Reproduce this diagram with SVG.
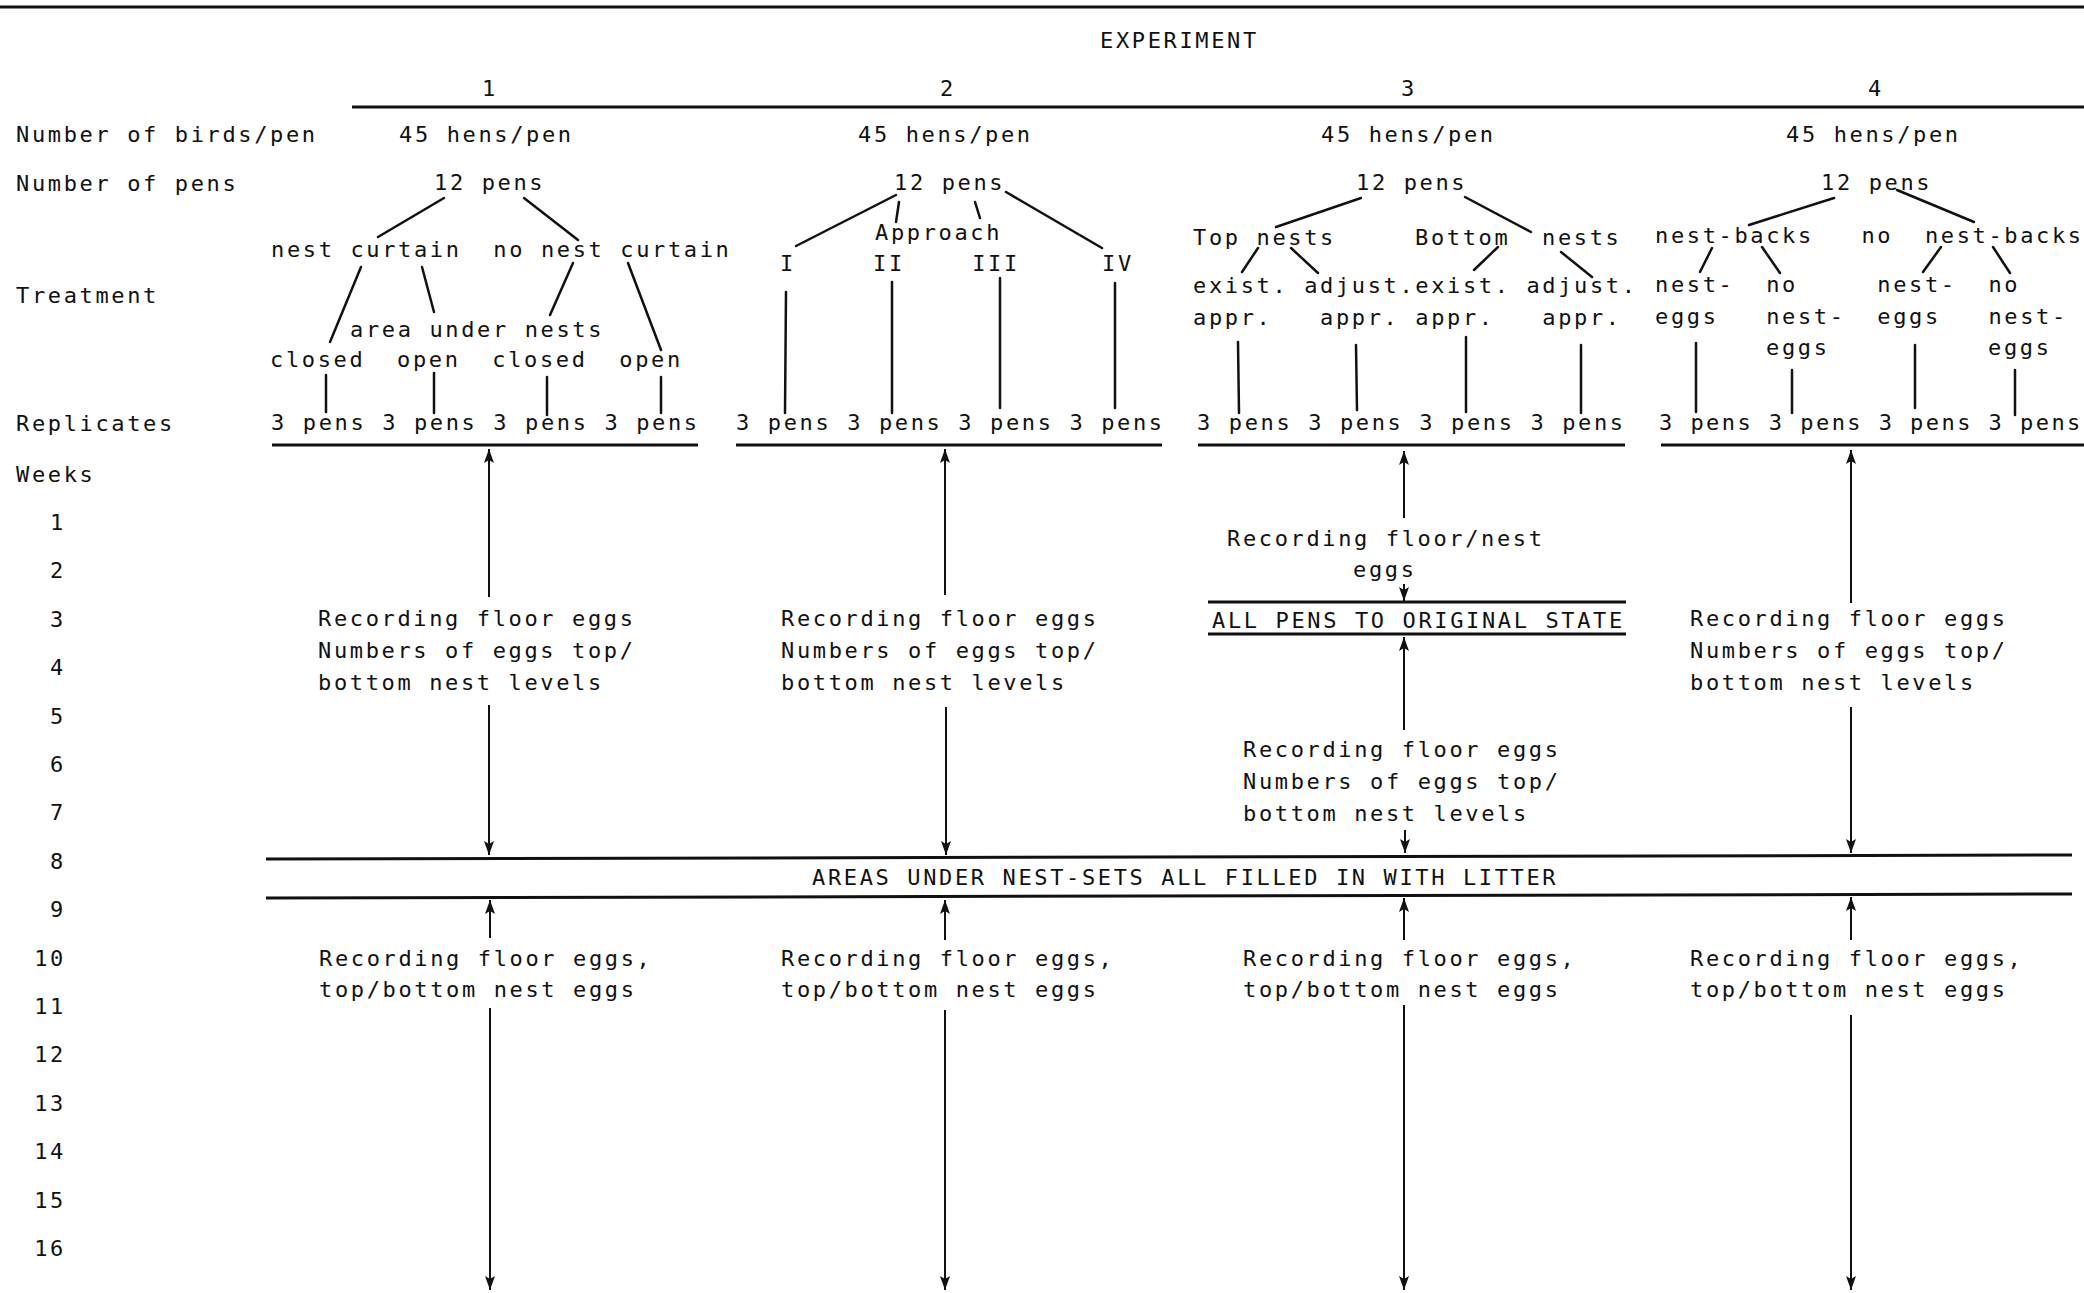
<svg xmlns="http://www.w3.org/2000/svg" width="2084" height="1293" viewBox="0 0 2084 1293" xml:space="preserve">
<style>
text { font-family: "DejaVu Sans Mono", "Liberation Mono", monospace; font-size: 22px; letter-spacing: 2.63px; fill: #111; white-space: pre; }
.c { text-anchor: middle; }
.e { text-anchor: end; }
.rule { stroke: #111; stroke-width: 3; fill: none; }
.tree { stroke: #111; stroke-width: 2.5; fill: none; stroke-linecap: round; }
.arr { stroke: #111; stroke-width: 2; fill: none; marker-end: url(#ah); }
</style>
<defs>
<marker id="ah" viewBox="0 0 14 10" refX="14" refY="5" markerWidth="14" markerHeight="10" markerUnits="userSpaceOnUse" orient="auto">
<path d="M0,0 L14,5 L0,10 L3,5 z" fill="#111"/>
</marker>
</defs>
<rect width="2084" height="1293" fill="#fff"/>

<g id="rules">
<line class="rule" x1="0" y1="7" x2="2084" y2="7"/>
<line class="rule" x1="352" y1="107" x2="2084" y2="107"/>
<line class="rule" x1="272" y1="445" x2="698" y2="445"/>
<line class="rule" x1="736" y1="445" x2="1162" y2="445"/>
<line class="rule" x1="1198" y1="445" x2="1625" y2="445"/>
<line class="rule" x1="1661" y1="445" x2="2084" y2="445"/>
<line class="rule" x1="1208" y1="602" x2="1626" y2="602"/>
<line class="rule" x1="1208" y1="634" x2="1626" y2="634"/>
<line class="rule" x1="266" y1="859" x2="2072" y2="855"/>
<line class="rule" x1="266" y1="898" x2="2072" y2="894"/>
</g>

<g id="header">
<text x="1100" y="48">EXPERIMENT</text>
<text class="c" x="490" y="96">1</text>
<text class="c" x="948" y="96">2</text>
<text class="c" x="1409" y="96">3</text>
<text class="c" x="1876" y="96">4</text>
</g>

<g id="row-labels">
<text x="16" y="142">Number of birds/pen</text>
<text x="16" y="191">Number of pens</text>
<text x="16" y="303">Treatment</text>
<text x="16" y="431">Replicates</text>
<text x="16" y="482">Weeks</text>
<text class="e" x="66" y="530">1</text>
<text class="e" x="66" y="578.4">2</text>
<text class="e" x="66" y="626.8">3</text>
<text class="e" x="66" y="675.2">4</text>
<text class="e" x="66" y="723.6">5</text>
<text class="e" x="66" y="772">6</text>
<text class="e" x="66" y="820.4">7</text>
<text class="e" x="66" y="868.8">8</text>
<text class="e" x="66" y="917.2">9</text>
<text class="e" x="66" y="965.6">10</text>
<text class="e" x="66" y="1014">11</text>
<text class="e" x="66" y="1062.4">12</text>
<text class="e" x="66" y="1110.8">13</text>
<text class="e" x="66" y="1159.2">14</text>
<text class="e" x="66" y="1207.6">15</text>
<text class="e" x="66" y="1256">16</text>
</g>

<g id="exp1">
<text x="399" y="142">45 hens/pen</text>
<text x="434" y="190">12 pens</text>
<text x="271" y="257">nest curtain  no nest curtain</text>
<text x="350" y="337">area under nests</text>
<text x="270" y="367">closed  open  closed  open</text>
<text x="271" y="430">3 pens 3 pens 3 pens 3 pens</text>
<text x="318" y="626">Recording floor eggs</text>
<text x="318" y="658">Numbers of eggs top/</text>
<text x="318" y="690">bottom nest levels</text>
<text x="319" y="966">Recording floor eggs,</text>
<text x="319" y="997">top/bottom nest eggs</text>
</g>

<g id="exp2">
<text x="858" y="142">45 hens/pen</text>
<text x="894" y="190">12 pens</text>
<text x="875" y="240">Approach</text>
<text class="c" x="788" y="271">I</text>
<text class="c" x="889" y="271">II</text>
<text class="c" x="996" y="271">III</text>
<text class="c" x="1118" y="271">IV</text>
<text x="736" y="430">3 pens 3 pens 3 pens 3 pens</text>
<text x="781" y="626">Recording floor eggs</text>
<text x="781" y="658">Numbers of eggs top/</text>
<text x="781" y="690">bottom nest levels</text>
<text x="781" y="966">Recording floor eggs,</text>
<text x="781" y="997">top/bottom nest eggs</text>
</g>

<g id="exp3">
<text x="1321" y="142">45 hens/pen</text>
<text x="1356" y="190">12 pens</text>
<text x="1193" y="245">Top nests</text>
<text x="1415" y="245">Bottom  nests</text>
<text x="1193" y="293">exist. adjust.exist. adjust.</text>
<text x="1193" y="325">appr.   appr. appr.   appr.</text>
<text x="1197" y="430">3 pens 3 pens 3 pens 3 pens</text>
<text x="1227" y="546">Recording floor/nest</text>
<text x="1353" y="577">eggs</text>
<text x="1212" y="628">ALL PENS TO ORIGINAL STATE</text>
<text x="1243" y="757">Recording floor eggs</text>
<text x="1243" y="789">Numbers of eggs top/</text>
<text x="1243" y="821">bottom nest levels</text>
<text x="1243" y="966">Recording floor eggs,</text>
<text x="1243" y="997">top/bottom nest eggs</text>
</g>

<g id="exp4">
<text x="1786" y="142">45 hens/pen</text>
<text x="1821" y="190">12 pens</text>
<text x="1655" y="243">nest-backs   no  nest-backs</text>
<text x="1655" y="292">nest-  no     nest-  no</text>
<text x="1655" y="324">eggs   nest-  eggs   nest-</text>
<text x="1766" y="355">eggs</text>
<text x="1988" y="355">eggs</text>
<text x="1659" y="430" style="letter-spacing:2.45px">3 pens 3 pens 3 pens 3 pens</text>
<text x="1690" y="626">Recording floor eggs</text>
<text x="1690" y="658">Numbers of eggs top/</text>
<text x="1690" y="690">bottom nest levels</text>
<text x="1690" y="966">Recording floor eggs,</text>
<text x="1690" y="997">top/bottom nest eggs</text>
</g>

<g id="area-label">
<text x="812" y="885">AREAS UNDER NEST-SETS ALL FILLED IN WITH LITTER</text>
</g>

<g id="connectors">
<line class="tree" x1="444" y1="198" x2="378" y2="237"/>
<line class="tree" x1="524" y1="198" x2="578" y2="240"/>
<line class="tree" x1="361" y1="267" x2="330" y2="342"/>
<line class="tree" x1="422" y1="267" x2="434" y2="312"/>
<line class="tree" x1="573" y1="263" x2="550" y2="315"/>
<line class="tree" x1="628" y1="263" x2="661" y2="350"/>
<line class="tree" x1="326" y1="375" x2="326" y2="412"/>
<line class="tree" x1="434" y1="373" x2="434" y2="413"/>
<line class="tree" x1="547" y1="377" x2="547" y2="415"/>
<line class="tree" x1="661" y1="377" x2="661" y2="413"/>
<line class="tree" x1="896" y1="195" x2="796" y2="246"/>
<line class="tree" x1="899" y1="202" x2="896" y2="222"/>
<line class="tree" x1="975" y1="202" x2="980" y2="218"/>
<line class="tree" x1="1006" y1="192" x2="1102" y2="248"/>
<line class="tree" x1="786" y1="292" x2="785" y2="413"/>
<line class="tree" x1="892" y1="282" x2="892" y2="413"/>
<line class="tree" x1="1000" y1="278" x2="1000" y2="408"/>
<line class="tree" x1="1115" y1="283" x2="1115" y2="408"/>
<line class="tree" x1="1361" y1="198" x2="1276" y2="227"/>
<line class="tree" x1="1465" y1="197" x2="1531" y2="232"/>
<line class="tree" x1="1258" y1="248" x2="1242" y2="272"/>
<line class="tree" x1="1291" y1="248" x2="1318" y2="273"/>
<line class="tree" x1="1498" y1="247" x2="1474" y2="270"/>
<line class="tree" x1="1561" y1="252" x2="1592" y2="277"/>
<line class="tree" x1="1238" y1="342" x2="1239" y2="413"/>
<line class="tree" x1="1356" y1="345" x2="1357" y2="410"/>
<line class="tree" x1="1466" y1="337" x2="1466" y2="412"/>
<line class="tree" x1="1581" y1="345" x2="1581" y2="413"/>
<line class="tree" x1="1834" y1="198" x2="1749" y2="225"/>
<line class="tree" x1="1897" y1="190" x2="1974" y2="222"/>
<line class="tree" x1="1712" y1="248" x2="1700" y2="272"/>
<line class="tree" x1="1762" y1="247" x2="1780" y2="273"/>
<line class="tree" x1="1941" y1="247" x2="1923" y2="272"/>
<line class="tree" x1="1993" y1="247" x2="2010" y2="273"/>
<line class="tree" x1="1696" y1="343" x2="1696" y2="412"/>
<line class="tree" x1="1792" y1="370" x2="1792" y2="413"/>
<line class="tree" x1="1915" y1="345" x2="1915" y2="408"/>
<line class="tree" x1="2015" y1="370" x2="2015" y2="415"/>
<line class="arr" x1="489" y1="597" x2="489" y2="449"/>
<line class="arr" x1="489" y1="705" x2="489" y2="855"/>
<line class="arr" x1="490" y1="938" x2="490" y2="900"/>
<line class="arr" x1="490" y1="1008" x2="490" y2="1290"/>
<line class="arr" x1="945" y1="595" x2="945" y2="449"/>
<line class="arr" x1="946" y1="707" x2="946" y2="855"/>
<line class="arr" x1="945" y1="940" x2="945" y2="900"/>
<line class="arr" x1="945" y1="1010" x2="945" y2="1290"/>
<line class="arr" x1="1404" y1="518" x2="1404" y2="451"/>
<line class="arr" x1="1404" y1="584" x2="1404" y2="601"/>
<line class="arr" x1="1404" y1="730" x2="1404" y2="637"/>
<line class="arr" x1="1405" y1="830" x2="1405" y2="853"/>
<line class="arr" x1="1404" y1="940" x2="1404" y2="898"/>
<line class="arr" x1="1404" y1="1005" x2="1404" y2="1290"/>
<line class="arr" x1="1851" y1="603" x2="1851" y2="450"/>
<line class="arr" x1="1851" y1="707" x2="1851" y2="853"/>
<line class="arr" x1="1851" y1="940" x2="1851" y2="897"/>
<line class="arr" x1="1851" y1="1015" x2="1851" y2="1290"/>
</g>
</svg>
